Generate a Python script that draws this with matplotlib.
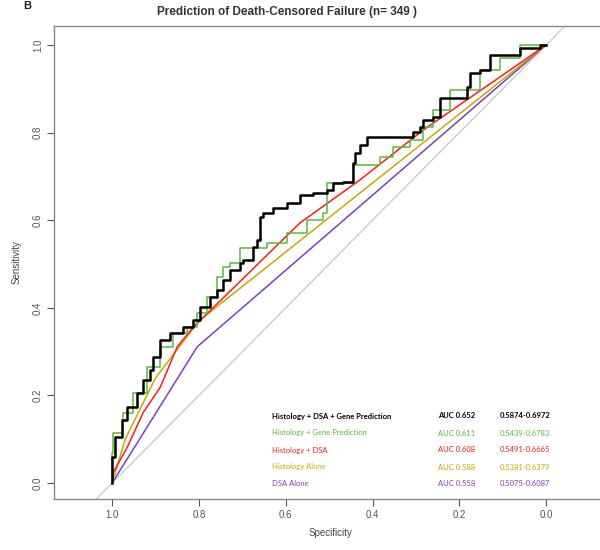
import numpy as np
import matplotlib.pyplot as plt

# ROC curves (specificity, sensitivity)
spec_full = [1.0, 0.993, 0.977, 0.965, 0.942, 0.929, 0.912, 0.906, 0.889, 0.866,
             0.836, 0.813, 0.797, 0.774, 0.758, 0.744, 0.728, 0.705, 0.698, 0.675,
             0.666, 0.659, 0.652, 0.629, 0.597, 0.567, 0.537, 0.505, 0.491, 0.468,
             0.445, 0.440, 0.429, 0.412, 0.382, 0.306, 0.290, 0.283, 0.260, 0.244,
             0.240, 0.182, 0.175, 0.152, 0.129, 0.106, 0.060, 0.053, 0.014, 0.0]
sens_full = [0.0, 0.059, 0.105, 0.144, 0.174, 0.205, 0.235, 0.258, 0.288, 0.326,
             0.342, 0.356, 0.372, 0.402, 0.425, 0.441, 0.463, 0.486, 0.502, 0.509,
             0.539, 0.555, 0.607, 0.616, 0.628, 0.639, 0.658, 0.662, 0.669, 0.685,
             0.687, 0.731, 0.753, 0.772, 0.790, 0.790, 0.801, 0.813, 0.829, 0.836,
             0.879, 0.879, 0.904, 0.936, 0.943, 0.977, 0.977, 0.993, 0.993, 1.0]

spec_gene = [1.0, 0.998, 0.975, 0.952, 0.919, 0.889, 0.859, 0.827, 0.804, 0.781,
             0.758, 0.744, 0.728, 0.705, 0.643, 0.597, 0.551, 0.514, 0.505, 0.445,
             0.440, 0.382, 0.353, 0.313, 0.283, 0.260, 0.221, 0.152, 0.106, 0.060, 0.0]
sens_gene = [0.0, 0.068, 0.114, 0.160, 0.205, 0.265, 0.311, 0.342, 0.356, 0.388,
             0.425, 0.470, 0.493, 0.502, 0.537, 0.548, 0.571, 0.600, 0.616, 0.685,
             0.726, 0.726, 0.744, 0.767, 0.783, 0.813, 0.852, 0.897, 0.943, 0.970, 1.0]

spec_hd = [1.0, 0.998, 0.965, 0.929, 0.889, 0.850, 0.813, 0.567, 0.429, 0.283, 0.0]
sens_hd = [0.0, 0.023, 0.082, 0.160, 0.219, 0.311, 0.356, 0.594, 0.692, 0.806, 1.0]

spec_hist = [1.0, 0.97, 0.90, 0.80, 0.0]
sens_hist = [0.0, 0.10, 0.24, 0.37, 1.0]

spec_dsa = [1.0, 0.804, 0.0]
sens_dsa = [0.0, 0.311, 1.0]

labels = ['Histology + DSA + Gene Prediction', 'Histology + Gene Prediction',
          'Histology + DSA', 'Histology Alone', 'DSA Alone']
auc_text = ['AUC 0.652', 'AUC 0.611', 'AUC 0.608', 'AUC 0.588', 'AUC 0.558']
ci_text = ['0.5874-0.6972', '0.5439-0.6783', '0.5491-0.6665', '0.5381-0.6379', '0.5075-0.6087']
colores = ['black', '#5cb83c', '#ff1a1a', '#c9a800', '#7b3fc4']

plt.rcParams['font.family'] = ['Liberation Sans', 'DejaVu Sans']

fig = plt.figure(figsize=(6, 5.5), dpi=100)
ax = fig.add_axes([0.09, 0.0927, 0.92, 0.86])

# diagonal de referencia
ax.axline((1, 0), (0, 1), color='#cccccc', lw=1, zorder=1)

ax.plot(spec_dsa, sens_dsa, color=colores[4], lw=1.1, zorder=2)
ax.plot(spec_hist, sens_hist, color=colores[3], lw=1.1, zorder=3)
ax.plot(spec_hd, sens_hd, color=colores[2], lw=1.1, zorder=4)
ax.plot(spec_gene, sens_gene, color=colores[1], lw=1.1, drawstyle='steps-pre', zorder=5)
ax.plot(spec_full, sens_full, color=colores[0], lw=1.8, drawstyle='steps-pre', zorder=6)

ax.set_xlim(1.134, -0.138)
ax.set_ylim(-0.0365, 1.0434)

ticks = [1.0, 0.8, 0.6, 0.4, 0.2, 0.0]
ax.set_xticks(ticks)
ax.set_xticklabels(['%.1f' % t for t in ticks])
ax.set_yticks(ticks)
ax.set_yticklabels(['%.1f' % t for t in ticks], rotation=90, va='center')
ax.tick_params(colors='#555555', labelsize=7, length=5, width=0.8, pad=3)
for lado in ['left', 'bottom', 'top']:
    ax.spines[lado].set_color('#888888')
    ax.spines[lado].set_linewidth(1.0)
ax.spines['right'].set_visible(False)

ax.set_xlabel('Specificity', fontsize=7, color='#444444', labelpad=6)
ax.set_ylabel('Sensitivity', fontsize=7, color='#444444', labelpad=8)

fig.text(287 / 600, 1 - 12 / 550, 'Prediction of Death-Censored Failure (n= 349 )',
         ha='center', va='center', fontsize=8.5, fontweight='bold', color='#333333')
fig.text(0.045, 0.998, 'B', fontsize=8, fontweight='bold', color='#222222',
         ha='center', va='top')

# tabla de AUC
filas_y = [416, 433, 450, 467, 483]
for i in range(len(labels)):
    yy = 1 - filas_y[i] / 550
    peso = 'bold' if i == 0 else 'normal'
    fig.text(272 / 600, yy, labels[i], fontsize=5.5, color=colores[i],
             family='Lato', va='center', fontweight=peso)
    fig.text(438 / 600, yy, auc_text[i], fontsize=5.5, color=colores[i],
             family='Lato', va='center', fontweight=peso)
    fig.text(500 / 600, yy, ci_text[i], fontsize=5.5, color=colores[i],
             family='Lato', va='center', fontweight=peso)

fig.savefig('out.png', dpi=100)
